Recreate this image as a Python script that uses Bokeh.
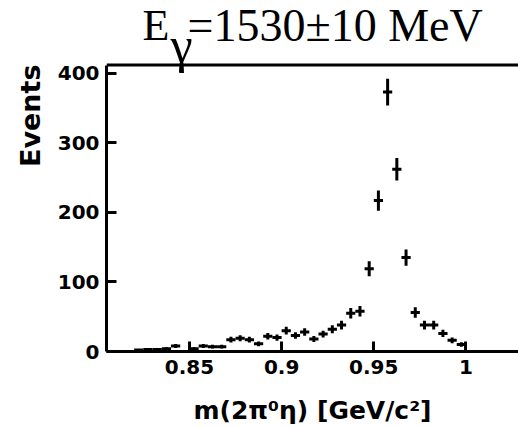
from bokeh.plotting import figure
from bokeh.models import Range1d, FixedTicker, Span, Label, Title, ColumnDataSource
from bokeh.embed import file_html
from bokeh.resources import INLINE

# Invariant mass spectrum, 5 MeV bins (bin centres in GeV/c^2)
mass_gev = [0.8225, 0.8275, 0.8325, 0.8375, 0.8425, 0.8525, 0.8575, 0.8625,
            0.8675, 0.8725, 0.8775, 0.8825, 0.8875, 0.8925, 0.8975, 0.9025,
            0.9075, 0.9125, 0.9175, 0.9225, 0.9275, 0.9325, 0.9375, 0.9425,
            0.9475, 0.9525, 0.9575, 0.9625, 0.9675, 0.9725, 0.9775, 0.9825,
            0.9875, 0.9925, 0.9975]
events = [2, 3, 3, 4, 8, 4, 8, 7,
          7, 17, 19, 17, 11, 22, 20, 30,
          23, 28, 18, 25, 32, 38, 55, 58,
          119, 217, 373, 262, 135, 56, 38, 38,
          26, 16, 10]
errors = [1.4, 1.7, 1.7, 2.0, 2.8, 2.0, 2.8, 2.6,
          2.6, 4.1, 4.4, 4.1, 3.3, 4.7, 4.5, 5.5,
          4.8, 5.3, 4.2, 5.0, 5.7, 6.2, 7.4, 7.6,
          10.9, 14.7, 19.3, 16.2, 11.6, 7.5, 6.2, 6.2,
          5.1, 4.0, 3.2]
BIN_WIDTH = 0.005

x_ticks = [0.85, 0.9, 0.95, 1.0]
x_tick_labels = ["0.85", "0.9", "0.95", "1"]
y_ticks = [0, 100, 200, 300, 400]

# the histogram box spans 0..412 events; the plotting area continues
# above it to leave room for the title text
Y_BOX_TOP = 412
Y_AREA_TOP = Y_BOX_TOP * 351 / 286.5

src = ColumnDataSource(dict(
    x=mass_gev,
    y=events,
    lo=[n - e for n, e in zip(events, errors)],
    hi=[n + e for n, e in zip(events, errors)],
    xl=[m - BIN_WIDTH / 2 for m in mass_gev],
    xr=[m + BIN_WIDTH / 2 for m in mass_gev],
))

p = figure(width=518, height=428, output_backend="svg", toolbar_location=None,
           x_range=Range1d(0.805, 1.0285), y_range=Range1d(0, Y_AREA_TOP),
           min_border_left=106, min_border_right=0,
           min_border_top=0, min_border_bottom=77)
p.background_fill_color = "white"
p.border_fill_color = "white"
p.outline_line_color = None
p.grid.visible = False

# error bars: vertical = statistical error, horizontal = bin width
p.segment(x0="x", y0="lo", x1="x", y1="hi", source=src,
          line_color="black", line_width=3, line_cap="butt")
p.segment(x0="xl", y0="y", x1="xr", y1="y", source=src,
          line_color="black", line_width=3, line_cap="butt")

# top edge of the histogram box
p.add_layout(Span(location=Y_BOX_TOP, dimension="width", line_color="black", line_width=3))

p.xaxis.ticker = FixedTicker(ticks=x_ticks)
p.xaxis.major_label_overrides = dict(zip(x_ticks, x_tick_labels))
p.yaxis.ticker = FixedTicker(ticks=y_ticks)
p.yaxis.bounds = (0, Y_BOX_TOP)

for ax in (p.xaxis[0], p.yaxis[0]):
    ax.axis_line_width = 3
    ax.axis_line_color = "black"
    ax.major_tick_in = 10
    ax.major_tick_out = 0
    ax.major_tick_line_width = 3
    ax.minor_tick_line_color = None
    ax.major_label_text_font = "DejaVu Sans"
    ax.major_label_text_font_style = "bold"
    ax.major_label_text_font_size = "20px"
    ax.major_label_text_color = "black"
    ax.axis_label_text_font = "DejaVu Sans"
    ax.axis_label_text_font_style = "bold"
    ax.axis_label_text_color = "black"

p.xaxis.axis_label = "m(2\u03c0\u2070\u03b7) [GeV/c\u00b2]"
p.xaxis.axis_label_text_font_size = "25px"
p.xaxis.major_label_standoff = 8
p.xaxis.axis_label_standoff = 19

p.yaxis.major_label_standoff = 7

# y-axis title, right-aligned to the top of the histogram box
p.add_layout(Title(text="Events", align="right", offset=64, standoff=17,
                   text_font="DejaVu Sans", text_font_style="bold",
                   text_font_size="27px", text_color="black"), "left")

# title: E_gamma = 1530 +- 10 MeV
serif = "Liberation Serif"
title_parts = [
    (36, 326, "E", "44px"),
    (64, 307, "\u03b3", "50px"),
    (81, 326, "=1530\u00b110 MeV", "46px"),
]
for tx, ty, txt, size in title_parts:
    p.add_layout(Label(x=tx, y=ty, x_units="screen", y_units="screen", text=txt,
                       text_font=serif, text_font_size=size, text_color="black",
                       text_baseline="alphabetic", text_align="left"))

open("out.html", "w").write(file_html(p, INLINE))
